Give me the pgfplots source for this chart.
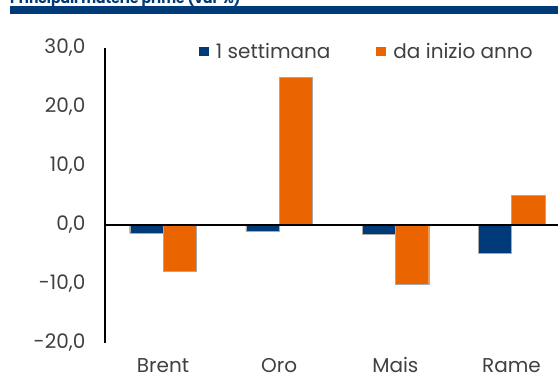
\documentclass[border=0pt]{standalone}
\usepackage{pgfplots}
\pgfplotsset{compat=1.18}
\usepackage{fontspec}
\setmainfont{Poppins}
\definecolor{cblue}{RGB}{0,58,120}
\definecolor{corange}{RGB}{234,101,0}
\definecolor{ctext}{RGB}{64,64,64}
\definecolor{cedge}{RGB}{170,170,170}
\begin{document}
\begin{tikzpicture}
% header
\fill[cblue] (10pt,361.5pt) rectangle (558pt,370pt);
\node[anchor=base west, inner sep=0pt, text=cblue, font=\fontsize{14}{16}\selectfont\bfseries] at (10pt,373pt) {Principali materie prime (var \%)};
\begin{axis}[
  at={(105pt,33pt)}, anchor=south west,
  width=453pt, height=295pt, scale only axis,
  xmin=-0.5, xmax=3.4, ymin=-20, ymax=30,
  axis x line=bottom, axis y line=left,
  x axis line style={draw=none},
  y axis line style={-, line width=1.6pt, black},
  xtick={0,1,2,3}, xticklabels={Brent,Oro,Mais,Rame},
  ytick={-20,-10,0,10,20,30},
  tick style={draw=none},
  /pgf/number format/assume math mode=true,
  yticklabel={\pgfmathprintnumber[fixed,fixed zerofill,precision=1,use comma]{\tick}},
  tick label style={text=ctext, font=\fontsize{20}{24}\selectfont},
  yticklabel style={xshift=-14pt},
  xticklabel style={anchor=north, inner sep=0pt, text height=14.5pt, text depth=0pt, yshift=-11pt},
  ybar, bar width=0.287,
  legend columns=2,
  legend style={at={(0.207,0.988)}, anchor=west, draw=none, fill=none,
    font=\fontsize{20}{24}\selectfont, text=ctext,
    /tikz/every odd column/.append style={column sep=5pt},
    /tikz/every even column/.append style={column sep=44pt},
    inner sep=0pt, nodes={inner sep=2pt}},
  legend image code/.code={\fill[#1, draw=none] (0pt,-4.5pt) rectangle (10pt,4.5pt);},
]
\addplot[fill=cblue, draw=cedge, line width=0.3pt, bar shift=-0.1435] coordinates {(0,-1.4) (1,-1.1) (2,-1.5) (3,-4.8)};
\addlegendentry{1 settimana}
\addplot[fill=corange, draw=cedge, line width=0.3pt, bar shift=0.1435] coordinates {(0,-7.8) (1,25.0) (2,-10.1) (3,5.0)};
\addlegendentry{da inizio anno}
\draw[black, line width=1.4pt] (axis cs:-0.5,0) -- (axis cs:3.4,0);
\end{axis}
\pgfresetboundingbox
\useasboundingbox (0,0) rectangle (558pt,376pt);
\end{tikzpicture}
\end{document}
